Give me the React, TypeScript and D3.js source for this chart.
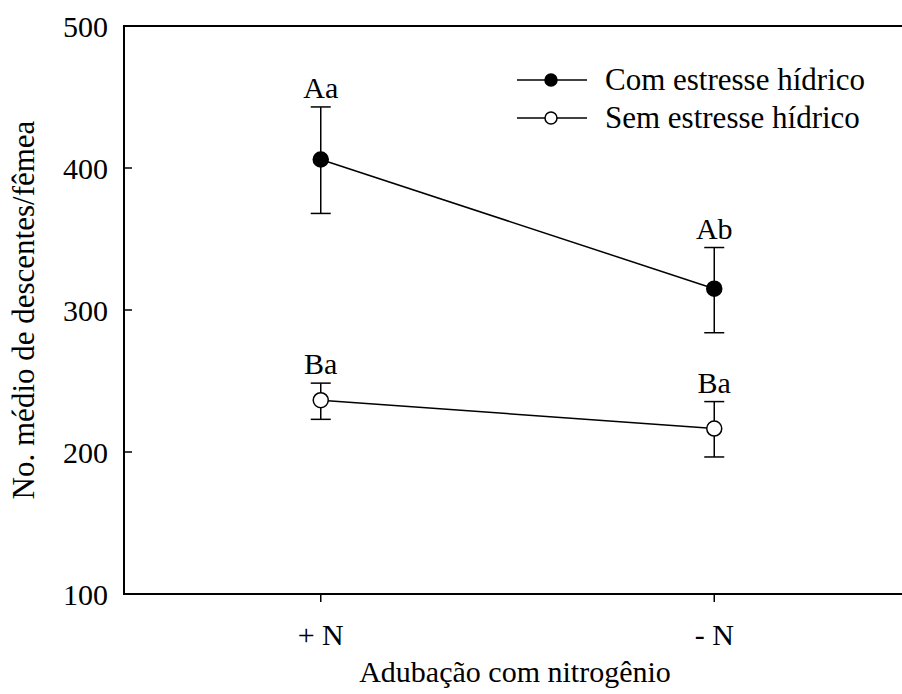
import React from "react";
import * as d3 from "d3";

const categories = ["+ N", "- N"];
const yTicks = [100, 200, 300, 400, 500];

// Com estresse hídrico
const comMean = [406, 315];
const comUpper = [443, 344];
const comLower = [368, 284];
const comLabels = ["Aa", "Ab"];

// Sem estresse hídrico
const semMean = [236.5, 216.5];
const semUpper = [248.5, 235.5];
const semLower = [223, 196.5];
const semLabels = ["Ba", "Ba"];

const seriesNames = ["Com estresse hídrico", "Sem estresse hídrico"];

const W = 902;
const H = 694;
const left = 124;
const top = 26;
const bottom = 594;
const right = 911;
const font = "'Liberation Serif', 'Times New Roman', serif";

const App = () => {
  const x = d3.scalePoint<string>().domain(categories).range([left, right]).padding(0.5);
  const y = d3.scaleLinear().domain([100, 500]).range([bottom, top]);

  const series = [
    { name: seriesNames[0], mean: comMean, up: comUpper, lo: comLower, labels: comLabels, fill: "#000" },
    { name: seriesNames[1], mean: semMean, up: semUpper, lo: semLower, labels: semLabels, fill: "#fff" },
  ];

  const line = d3
    .line<number>()
    .x((_, i) => x(categories[i]) as number)
    .y((d) => y(d));

  return (
    <div style={{ position: "absolute", left: 0, top: 0 }}>
      <svg width={W} height={H} style={{ display: "block", fontFamily: font }}>
        <rect width={W} height={H} fill="#fff" />
        {/* frame, open on the right (runs past the edge) */}
        <path
          d={`M${right},${top}H${left}V${bottom}H${right}`}
          fill="none"
          stroke="#000"
          strokeWidth={2}
        />
        {yTicks.map((t) => (
          <g key={t}>
            {t > 100 && t < 500 && (
              <line x1={left} x2={left + 8} y1={y(t)} y2={y(t)} stroke="#000" strokeWidth={1.5} />
            )}
            <text x={108} y={y(t)} dy="0.35em" textAnchor="end" fontSize={30}>
              {t}
            </text>
          </g>
        ))}
        {categories.map((c) => (
          <g key={c}>
            <line x1={x(c)} x2={x(c)} y1={bottom} y2={bottom + 8} stroke="#000" strokeWidth={1.5} />
            <text x={x(c)} y={645} textAnchor="middle" fontSize={30}>
              {c}
            </text>
          </g>
        ))}
        <text x={515} y={682} textAnchor="middle" fontSize={30}>
          Adubação com nitrogênio
        </text>
        <text transform={`translate(34,${(top + bottom) / 2}) rotate(-90)`} textAnchor="middle" fontSize={31}>
          No. médio de descentes/fêmea
        </text>

        {series.map((s) => (
          <g key={s.name}>
            <path d={line(s.mean) || ""} fill="none" stroke="#000" strokeWidth={1.5} />
            {s.mean.map((m, i) => {
              const cx = x(categories[i]) as number;
              return (
                <g key={i}>
                  <line x1={cx} x2={cx} y1={y(s.up[i])} y2={y(s.lo[i])} stroke="#000" strokeWidth={1.5} />
                  <line x1={cx - 10} x2={cx + 10} y1={y(s.up[i])} y2={y(s.up[i])} stroke="#000" strokeWidth={1.5} />
                  <line x1={cx - 10} x2={cx + 10} y1={y(s.lo[i])} y2={y(s.lo[i])} stroke="#000" strokeWidth={1.5} />
                  <circle cx={cx} cy={y(m)} r={7.5} fill={s.fill} stroke="#000" strokeWidth={1.5} />
                  <text x={cx} y={y(s.up[i]) - 9} textAnchor="middle" fontSize={30}>
                    {s.labels[i]}
                  </text>
                </g>
              );
            })}
          </g>
        ))}

        {/* legend */}
        {series.map((s, i) => {
          const ly = 80 + i * 38;
          return (
            <g key={s.name}>
              <line x1={517} x2={587} y1={ly} y2={ly} stroke="#000" strokeWidth={1.5} />
              <circle cx={551} cy={ly} r={6} fill={s.fill} stroke="#000" strokeWidth={1.5} />
              <text x={605} y={ly} dy="0.33em" fontSize={31}>
                {s.name}
              </text>
            </g>
          );
        })}
      </svg>
    </div>
  );
};

export default App;
